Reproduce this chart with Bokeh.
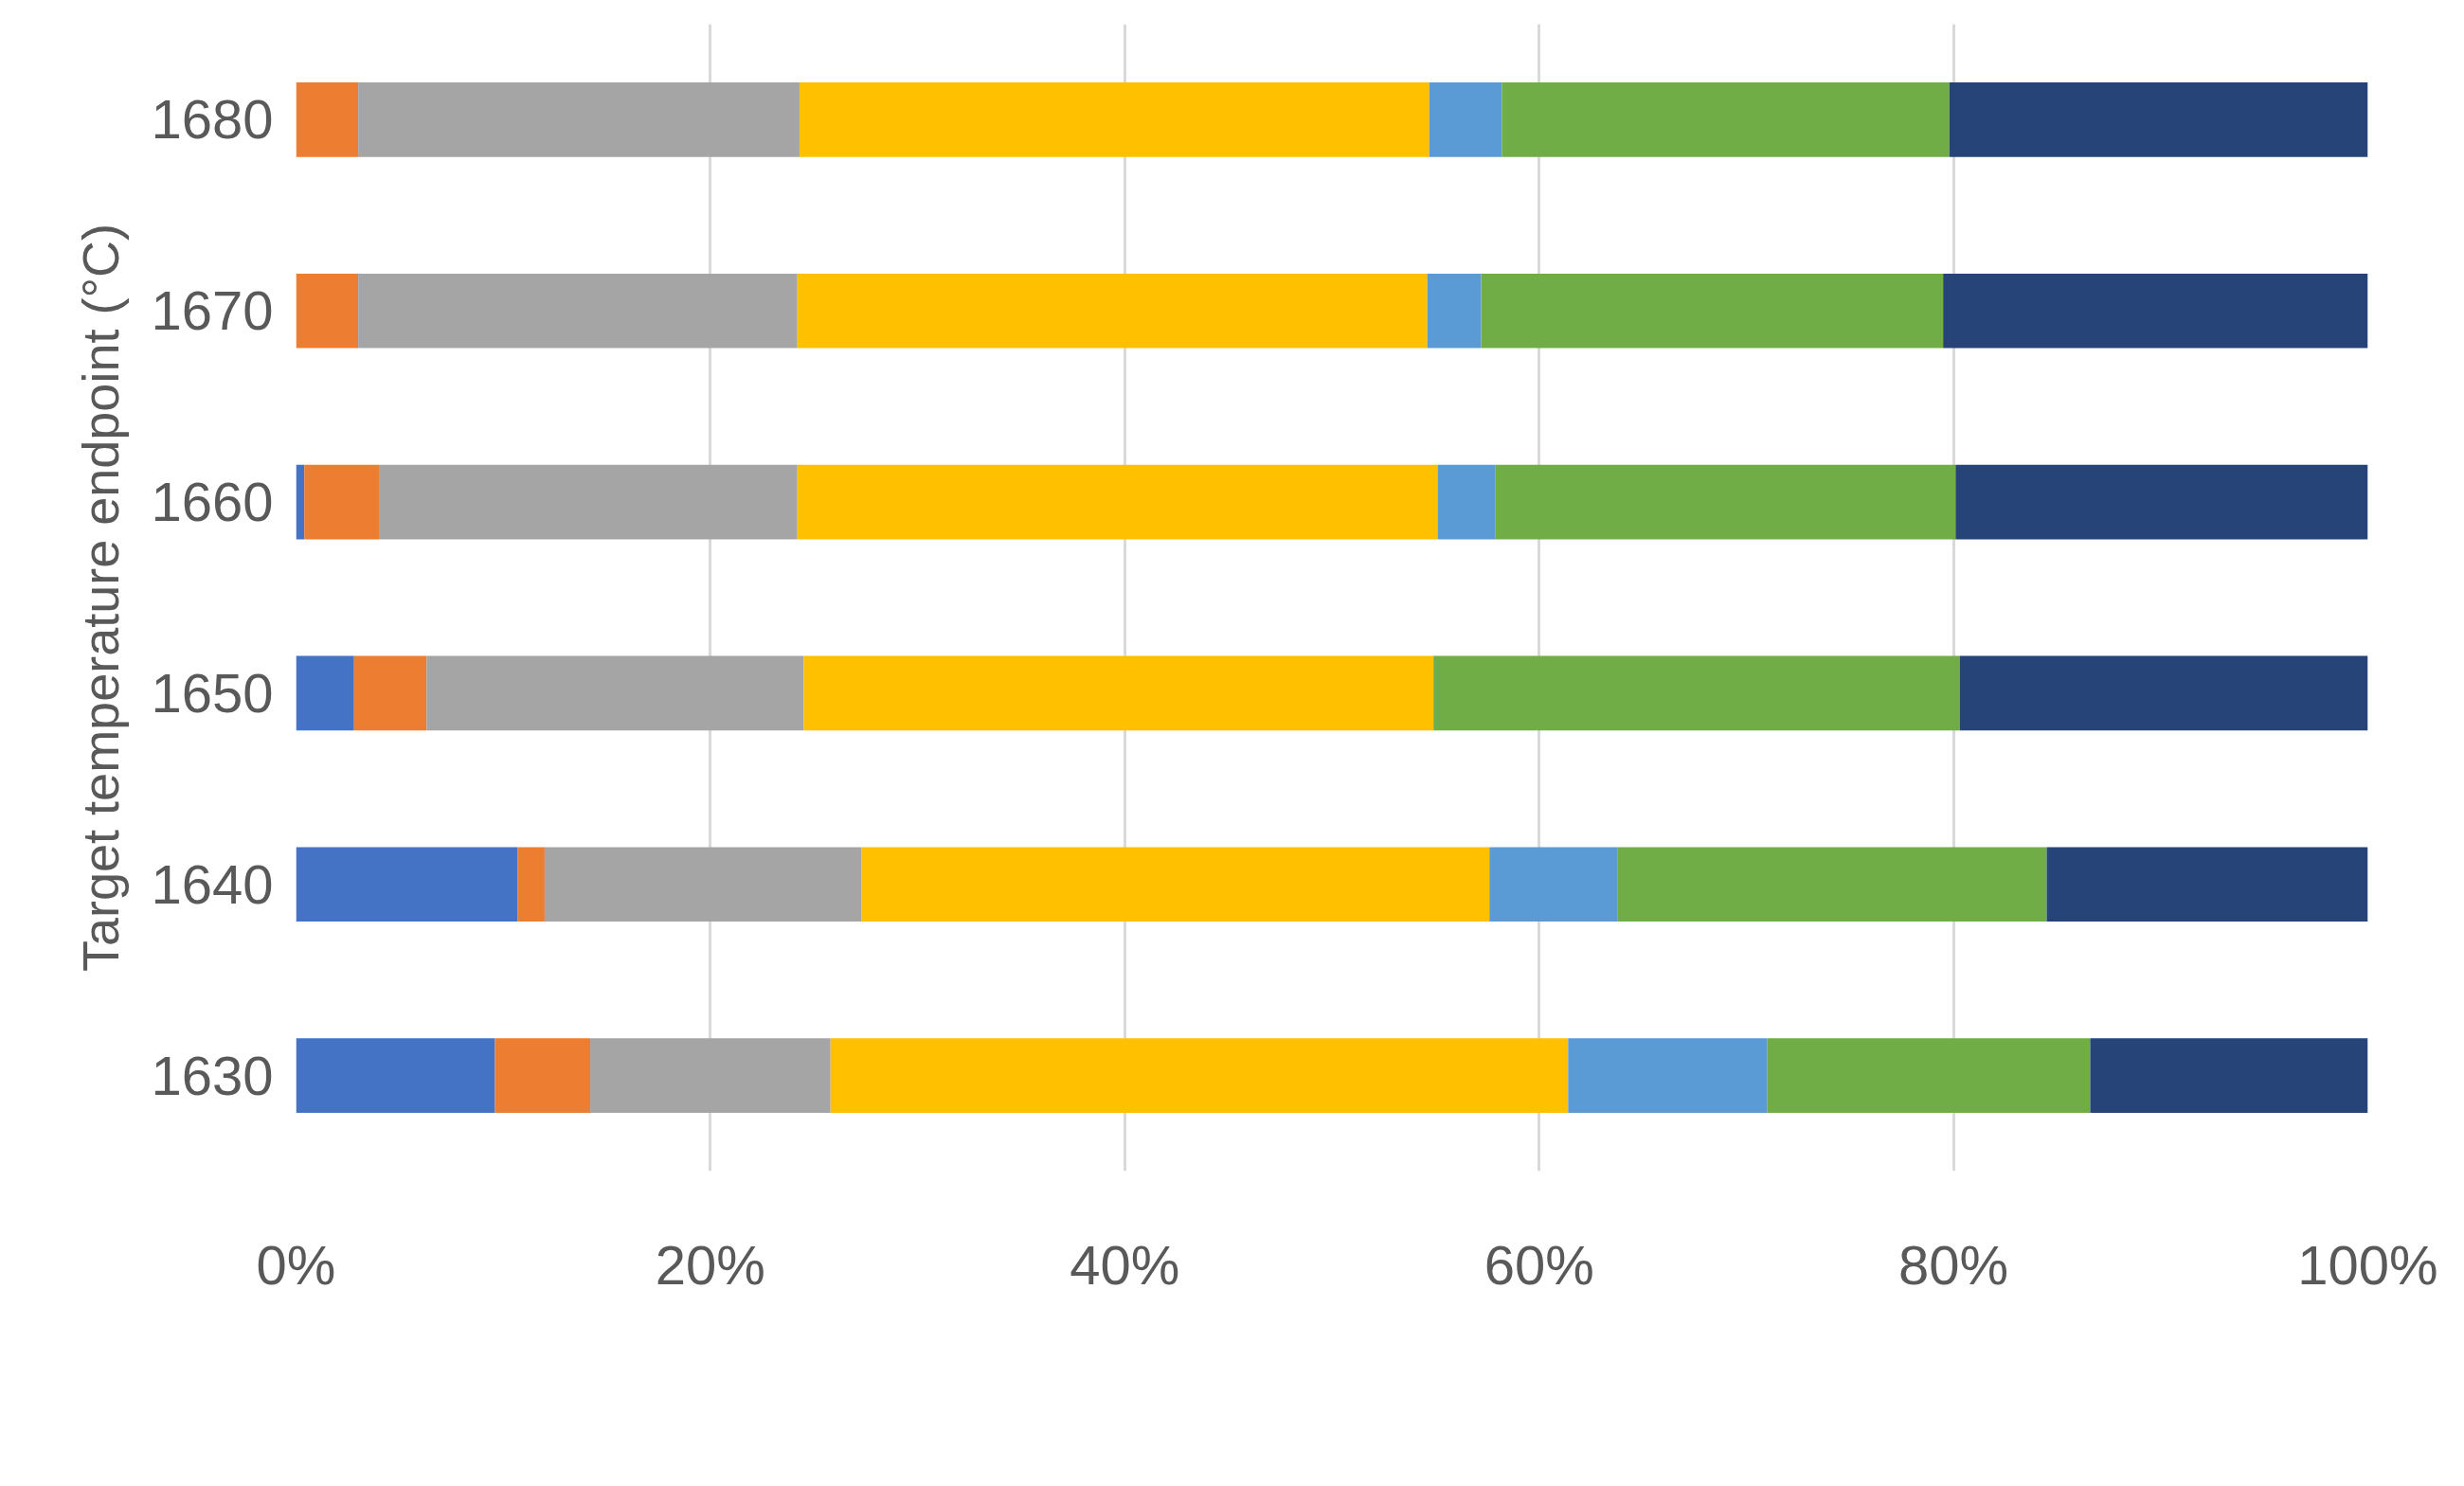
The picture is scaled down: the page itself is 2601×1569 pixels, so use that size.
from bokeh.plotting import figure
from bokeh.models import ColumnDataSource, Legend, NumeralTickFormatter, FixedTicker
from bokeh.embed import file_html
from bokeh.resources import INLINE

temps = ["1630", "1640", "1650", "1660", "1670", "1680"]
x1 = [9.6, 10.7, 2.8, 0.4, 0.0, 0.0]
x2 = [4.6, 1.3, 3.5, 3.6, 3.0, 3.0]
x3 = [11.6, 15.3, 18.2, 20.2, 21.2, 21.3]
x4 = [35.6, 30.3, 30.4, 30.9, 30.4, 30.4]
x5 = [9.6, 6.2, 0.0, 2.8, 2.6, 3.5]
x6 = [15.6, 20.7, 25.4, 22.2, 22.3, 21.6]
x7 = [13.4, 15.5, 19.7, 19.9, 20.5, 20.2]
series = ["x1", "x2", "x3", "x4", "x5", "x6", "x7"]
colors = ["#4472C4", "#ED7D31", "#A5A5A5", "#FFC000", "#5B9BD5", "#70AD47", "#264478"]

vals = [x1, x2, x3, x4, x5, x6, x7]
data = {"t": temps}
for name, v in zip(series, vals):
    data[name] = [a / 100.0 for a in v]
src = ColumnDataSource(data)

FONT = "Liberation Sans"
p = figure(y_range=temps, x_range=(0, 1), width=2585, height=1553,
           output_backend="svg", toolbar_location=None,
           min_border_left=312, min_border_right=86, min_border_top=25, min_border_bottom=317)
rs = p.hbar_stack(series, y="t", height=0.39, color=colors, source=src, line_width=0)

p.outline_line_color = None
p.ygrid.grid_line_color = None
p.xgrid.grid_line_color = "#D9D9D9"
p.xgrid.grid_line_width = 3
p.xaxis.ticker = FixedTicker(ticks=[0, 0.2, 0.4, 0.6, 0.8, 1.0])
p.xaxis.formatter = NumeralTickFormatter(format="0%")
for ax in (p.xaxis[0], p.yaxis[0]):
    ax.axis_line_color = None
    ax.major_tick_line_color = None
    ax.minor_tick_line_color = None
    ax.major_label_text_font = FONT
    ax.major_label_text_font_size = "58px"
    ax.major_label_text_color = "#595959"
p.xaxis.major_label_standoff = 60
p.yaxis.major_label_standoff = 18
p.yaxis.axis_label = "Target temperature endpoint (°C)"
p.yaxis.axis_label_text_font = FONT
p.yaxis.axis_label_text_font_size = "54px"
p.yaxis.axis_label_text_font_style = "normal"
p.yaxis.axis_label_text_color = "#595959"
p.yaxis.axis_label_standoff = 20

legend = Legend(items=[(s, [r]) for s, r in zip(series, rs)], orientation="horizontal",
                location=(370, -298), label_text_font=FONT, label_text_font_size="56px",
                label_text_color="#595959", glyph_width=34, glyph_height=56,
                border_line_color="black", border_line_width=4, padding=22, spacing=48,
                margin=0, label_standoff=12, background_fill_alpha=1)
p.add_layout(legend, "center")

open("out.html", "w").write(file_html(p, INLINE))
